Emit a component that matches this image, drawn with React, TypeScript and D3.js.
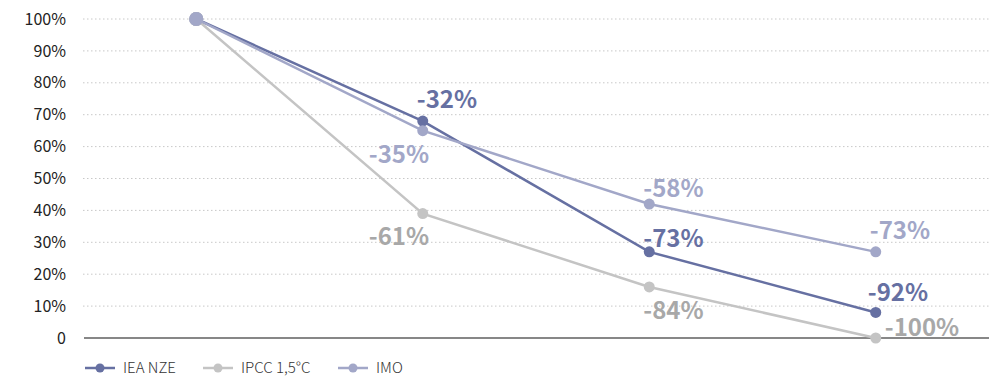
import React from "react";
import * as d3 from "d3";

const categories = ["2008", "2030", "2040", "2050"];
const ieaNze = [100, 68, 27, 8];
const ipcc = [100, 39, 16, 0];
const imo = [100, 65, 42, 27];
const yTicks = [0, 10, 20, 30, 40, 50, 60, 70, 80, 90, 100];
const seriesNames = ["IEA NZE", "IPCC 1,5°C", "IMO"];

const W = 989;
const H = 376;
const FONT = "'Noto Sans CJK SC', 'Noto Sans', sans-serif";

const series = [
  { name: seriesNames[0], values: ieaNze, color: "#6670a2", labelColor: "#6670a2",
    offsets: [null, [-6, -21], [-6, -13], [-8, -20]] },
  { name: seriesNames[1], values: ipcc, color: "#c4c4c4", labelColor: "#a8a8a8",
    offsets: [null, [-54, 23], [-6, 24], [9, -10]] },
  { name: seriesNames[2], values: imo, color: "#a2a7c8", labelColor: "#a2a7c8",
    offsets: [null, [-54, 24], [-6, -15], [-6, -21]] },
];

export default function App() {
  const x = d3.scaleBand<string>().domain(categories).range([83, 989]);
  const y = d3.scaleLinear().domain([0, 100]).range([338, 19]);
  const cx = (c: string) => (x(c) as number) + x.bandwidth() / 2;
  const line = d3
    .line<number>()
    .x((_, i) => cx(categories[i]))
    .y((v) => y(v));

  const legendX = [85, 203, 338];

  return (
    <svg width={W} height={H} style={{ position: "absolute", left: 0, top: 0, fontFamily: FONT }}>
      <rect width={W} height={H} fill="#fff" />
      {yTicks.map((t) => (
        <g key={t}>
          {t > 0 && (
            <line x1={83} x2={989} y1={y(t)} y2={y(t)} stroke="#c8c8c8" strokeWidth={1} strokeDasharray="1.5,2.5" />
          )}
          <text x={66} y={y(t)} dy="0.35em" textAnchor="end" fontSize={16} fill="#222">
            {t === 0 ? "0" : `${t}%`}
          </text>
        </g>
      ))}
      <line x1={84} x2={989} y1={y(0)} y2={y(0)} stroke="#111" strokeWidth={1.2} />
      {series.map((s) => (
        <g key={s.name}>
          <path d={line(s.values) || ""} fill="none" stroke={s.color} strokeWidth={2.5} />
          {s.values.map((v, i) => (
            <circle key={i} cx={cx(categories[i])} cy={y(v)} r={i === 0 ? 7 : 5.5} fill={s.color} />
          ))}
          {s.values.map((v, i) => {
            const o = s.offsets[i];
            if (!o) return null;
            return (
              <text
                key={"l" + i}
                x={cx(categories[i]) + o[0]}
                y={y(v) + o[1]}
                dy="0.35em"
                fontSize={24}
                fontWeight="bold"
                fill={s.labelColor}
              >
                {`${v - 100}%`}
              </text>
            );
          })}
        </g>
      ))}
      {series.map((s, i) => (
        <g key={"lg" + i} transform={`translate(${legendX[i]},368)`}>
          <line x1={0} x2={30} y1={0} y2={0} stroke={s.color} strokeWidth={2.5} />
          <circle cx={15} cy={0} r={4.5} fill={s.color} />
          <text x={38} y={0} dy="0.35em" fontSize={15} fontWeight={300} fill="#333">
            {s.name}
          </text>
        </g>
      ))}
    </svg>
  );
}
